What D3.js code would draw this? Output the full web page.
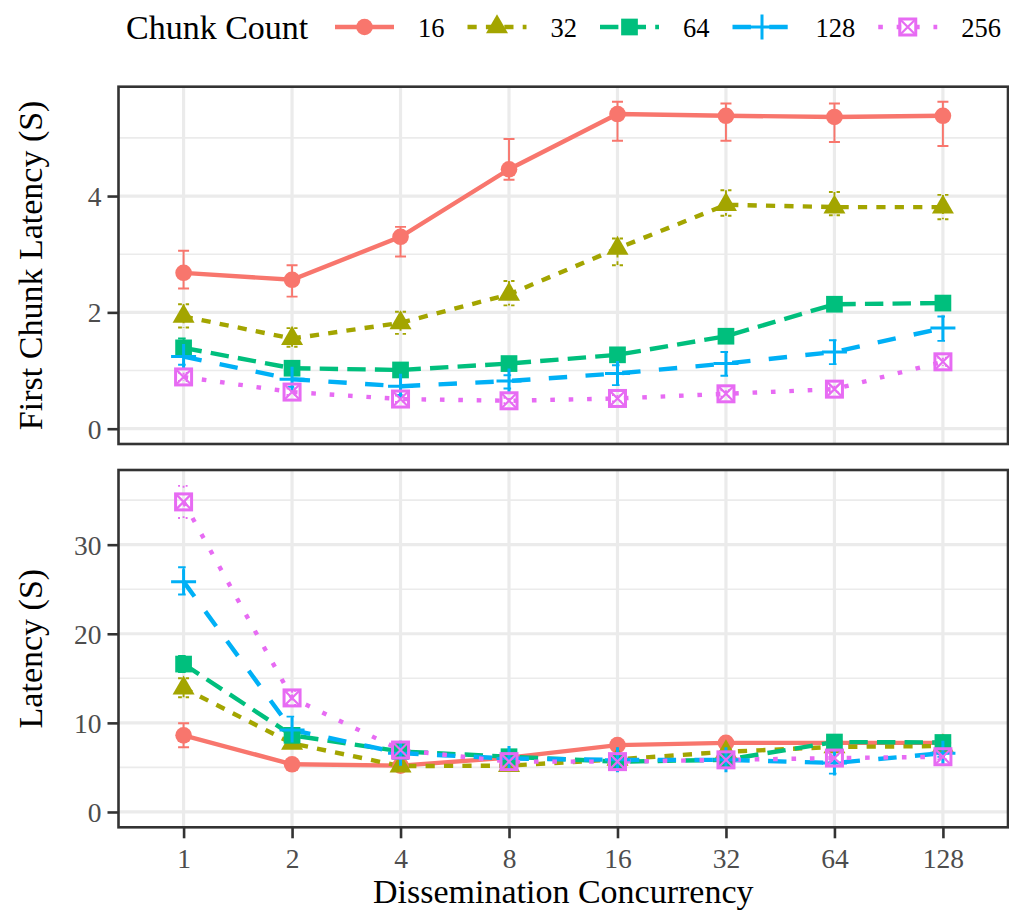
<!DOCTYPE html>
<html>
<head>
<meta charset="utf-8">
<script src="https://cdn.jsdelivr.net/npm/d3@7"></script>
<style>
  html, body { margin: 0; padding: 0; background: #fff; }
  svg { display: block; font-family: "Liberation Serif", "Times New Roman", serif; }
</style>
</head>
<body>
<svg id="chart" width="1009" height="916"></svg>
<script>
// ---------- data ----------
const concurrency = ["1", "2", "4", "8", "16", "32", "64", "128"];
const chunkCounts = ["16", "32", "64", "128", "256"];
const colors = ["#F8766D", "#A3A500", "#00BF7D", "#00B0F6", "#E76BF3"];

// First chunk latency (S): mean, lower, upper per chunk count
const first16 = [2.68, 2.56, 3.30, 4.46, 5.41, 5.38, 5.36, 5.38];
const first16Lo = [2.41, 2.27, 2.96, 4.28, 4.95, 4.95, 4.93, 4.86];
const first16Hi = [3.06, 2.81, 3.47, 4.98, 5.62, 5.59, 5.59, 5.62];
const first32 = [1.93, 1.55, 1.82, 2.31, 3.10, 3.85, 3.81, 3.81];
const first32Lo = [1.74, 1.41, 1.63, 2.12, 2.81, 3.66, 3.67, 3.60];
const first32Hi = [2.14, 1.73, 2.01, 2.54, 3.27, 4.10, 4.07, 4.02];
const first64 = [1.39, 1.04, 1.01, 1.12, 1.27, 1.59, 2.14, 2.16];
const first64Lo = [1.25, 0.98, 0.95, 1.06, 1.20, 1.52, 2.08, 2.10];
const first64Hi = [1.55, 1.10, 1.07, 1.18, 1.34, 1.66, 2.20, 2.22];
const first128 = [1.24, 0.85, 0.73, 0.82, 0.95, 1.12, 1.32, 1.73];
const first128Lo = [1.10, 0.72, 0.58, 0.69, 0.75, 0.91, 1.11, 1.51];
const first128Hi = [1.41, 0.98, 0.92, 0.92, 1.09, 1.32, 1.52, 1.93];
const first256 = [0.89, 0.63, 0.51, 0.48, 0.52, 0.60, 0.68, 1.15];
const first256Lo = [0.82, 0.58, 0.46, 0.44, 0.47, 0.55, 0.63, 1.08];
const first256Hi = [0.96, 0.69, 0.57, 0.53, 0.58, 0.66, 0.74, 1.22];

// Total latency (S)
const lat16 = [8.6, 5.35, 5.2, 6.1, 7.5, 7.75, 7.75, 7.75];
const lat16Lo = [7.26, 4.9, 4.8, 5.7, 7.1, 7.4, 7.4, 7.4];
const lat16Hi = [9.95, 5.9, 5.6, 6.5, 7.9, 8.1, 8.1, 8.1];
const lat32 = [13.9, 7.7, 5.15, 5.2, 5.9, 6.75, 7.3, 7.4];
const lat32Lo = [12.87, 7.2, 4.8, 4.9, 5.6, 6.4, 6.9, 7.0];
const lat32Hi = [15.0, 8.2, 5.5, 5.5, 6.2, 7.1, 7.7, 7.8];
const lat64 = [16.6, 8.6, 6.8, 6.2, 5.65, 5.85, 7.85, 7.8];
const lat64Lo = [15.7, 8.1, 6.4, 5.9, 5.3, 5.5, 7.45, 7.4];
const lat64Hi = [17.5, 9.1, 7.2, 6.5, 6.0, 6.2, 8.25, 8.2];
const lat128 = [25.85, 9.2, 6.6, 6.0, 5.85, 5.85, 5.5, 6.6];
const lat128Lo = [24.4, 7.7, 6.0, 5.6, 5.4, 5.4, 4.3, 6.2];
const lat128Hi = [27.46, 10.7, 7.2, 6.4, 6.3, 6.3, 6.7, 7.0];
const lat256 = [34.8, 12.8, 6.95, 5.65, 5.65, 5.85, 6.05, 6.2];
const lat256Lo = [33.0, 12.0, 6.5, 5.3, 5.3, 5.5, 5.7, 5.9];
const lat256Hi = [36.6, 13.6, 7.4, 6.0, 6.0, 6.2, 6.4, 6.5];

const yTicksTop = [0, 2, 4];
const yMinorTop = [1, 3, 5];
const yTicksBottom = [0, 10, 20, 30];
const yMinorBottom = [5, 15, 25, 35];

const legendTitle = "Chunk Count";
const xTitle = "Dissemination Concurrency";
const yTitleTop = "First Chunk Latency (S)";
const yTitleBottom = "Latency (S)";

// ---------- build ----------
const topSeries = [
  [first16, first16Lo, first16Hi], [first32, first32Lo, first32Hi], [first64, first64Lo, first64Hi],
  [first128, first128Lo, first128Hi], [first256, first256Lo, first256Hi]
];
const botSeries = [
  [lat16, lat16Lo, lat16Hi], [lat32, lat32Lo, lat32Hi], [lat64, lat64Lo, lat64Hi],
  [lat128, lat128Lo, lat128Hi], [lat256, lat256Lo, lat256Hi]
];

const svg = d3.select("#chart");
const L = 118.5, R = 1008;
const lwd = 4.4, unit = 4.6;
const dashes = [null, [2, 2], [4, 2], [4, 4], [1, 3]];
const dashFor = (i, u) => dashes[i] ? dashes[i].map(d => d * u).join(",") : null;
const shapes = ["circle", "triangle", "square", "plus", "squarex"];

const x = d3.scalePoint().domain(concurrency).range([L, R]).padding(0.6);

function marker(g, shape, color, cx, cy) {
  if (shape === "circle") {
    g.append("circle").attr("cx", cx).attr("cy", cy).attr("r", 8.3).attr("fill", color);
  } else if (shape === "triangle") {
    const r = 12.7, xc = 11, yc = 6.35;
    g.append("path").attr("d", `M${cx},${cy - r}L${cx + xc},${cy + yc}L${cx - xc},${cy + yc}Z`).attr("fill", color);
  } else if (shape === "square") {
    const s = 16.7;
    g.append("rect").attr("x", cx - s / 2).attr("y", cy - s / 2).attr("width", s).attr("height", s).attr("fill", color);
  } else if (shape === "plus") {
    const h = 12.5;
    g.append("path").attr("d", `M${cx - h},${cy}H${cx + h}M${cx},${cy - h}V${cy + h}`)
      .attr("stroke", color).attr("stroke-width", 3).attr("fill", "none");
  } else {
    const h = 8;
    g.append("rect").attr("x", cx - h).attr("y", cy - h).attr("width", 2 * h).attr("height", 2 * h)
      .attr("stroke", color).attr("stroke-width", 3).attr("fill", "none");
    g.append("path").attr("d", `M${cx - h},${cy - h}L${cx + h},${cy + h}M${cx + h},${cy - h}L${cx - h},${cy + h}`)
      .attr("stroke", color).attr("stroke-width", 2.2).attr("fill", "none");
  }
}

function panel(top, bottom, domain, ticks, minor, series, title, showX) {
  const y = d3.scaleLinear().domain(domain).range([bottom, top]);
  const g = svg.append("g");
  // grid
  g.selectAll(".minor").data(minor).join("line")
    .attr("x1", L).attr("x2", R).attr("y1", d => y(d)).attr("y2", d => y(d))
    .attr("stroke", "#EBEBEB").attr("stroke-width", 1.6);
  g.selectAll(".major").data(ticks).join("line")
    .attr("x1", L).attr("x2", R).attr("y1", d => y(d)).attr("y2", d => y(d))
    .attr("stroke", "#EBEBEB").attr("stroke-width", 3.2);
  g.selectAll(".vmajor").data(concurrency).join("line")
    .attr("x1", d => x(d)).attr("x2", d => x(d)).attr("y1", top).attr("y2", bottom)
    .attr("stroke", "#EBEBEB").attr("stroke-width", 3.2);

  const plot = g.append("g");
  // error bars
  series.forEach((s, i) => {
    const eb = plot.append("g").attr("stroke", colors[i]).attr("stroke-width", 1.9).attr("fill", "none")
      .attr("stroke-dasharray", dashFor(i, 1.9));
    concurrency.forEach((c, j) => {
      const cx = x(c), w = 5.5;
      eb.append("path").attr("d",
        `M${cx - w},${y(s[2][j])}H${cx + w}M${cx},${y(s[2][j])}V${y(s[1][j])}M${cx - w},${y(s[1][j])}H${cx + w}`);
    });
  });
  // lines
  const line = d3.line().x((d, j) => x(concurrency[j])).y(d => y(d));
  series.forEach((s, i) => {
    plot.append("path").attr("d", line(s[0])).attr("fill", "none")
      .attr("stroke", colors[i]).attr("stroke-width", lwd)
      .attr("stroke-dasharray", dashFor(i, unit));
  });
  // points
  series.forEach((s, i) => {
    const pg = plot.append("g");
    s[0].forEach((v, j) => marker(pg, shapes[i], colors[i], x(concurrency[j]), y(v)));
  });

  // border
  g.append("rect").attr("x", L).attr("y", top).attr("width", R - L).attr("height", bottom - top)
    .attr("fill", "none").attr("stroke", "#333333").attr("stroke-width", 2.6);

  // y axis ticks and labels
  const yAxis = d3.axisLeft(y).tickValues(ticks).tickSize(11).tickPadding(6).tickFormat(d3.format("d"));
  const ya = g.append("g").attr("transform", `translate(${L},0)`).call(yAxis);
  ya.select(".domain").remove();
  ya.selectAll(".tick line").attr("stroke", "#333333").attr("stroke-width", 2.6);
  ya.selectAll(".tick text").attr("fill", "#4D4D4D").attr("font-size", 27.5)
    .attr("font-family", "Liberation Serif, serif").attr("dy", "0.34em");

  if (showX) {
    const xAxis = d3.axisBottom(x).tickSize(11).tickPadding(10);
    const xa = g.append("g").attr("transform", `translate(0,${bottom})`).call(xAxis);
    xa.select(".domain").remove();
    xa.selectAll(".tick line").attr("stroke", "#333333").attr("stroke-width", 2.6);
    xa.selectAll(".tick text").attr("fill", "#4D4D4D").attr("font-size", 27.5)
      .attr("font-family", "Liberation Serif, serif").attr("dy", "0.71em");
  }

  // y title
  svg.append("text").attr("transform", `translate(42,${(top + bottom) / 2}) rotate(-90)`)
    .attr("text-anchor", "middle").attr("font-size", 34).attr("fill", "#000").text(title);
}

panel(86.7, 444, [-0.263, 5.88], yTicksTop, yMinorTop, topSeries, yTitleTop, false);
panel(470, 827.3, [-1.72, 38.38], yTicksBottom, yMinorBottom, botSeries, yTitleBottom, true);

// x title
svg.append("text").attr("x", (L + R) / 2).attr("y", 903).attr("text-anchor", "middle")
  .attr("font-size", 34).attr("fill", "#000").text(xTitle);

// legend
const leg = svg.append("g");
leg.append("text").attr("x", 126).attr("y", 39).attr("font-size", 34).attr("fill", "#000").text(legendTitle);
let lx = 335;
const ly = 27;
chunkCounts.forEach((c, i) => {
  leg.append("line").attr("x1", lx).attr("x2", lx + 59).attr("y1", ly).attr("y2", ly)
    .attr("stroke", colors[i]).attr("stroke-width", lwd).attr("stroke-dasharray", dashFor(i, unit));
  marker(leg, shapes[i], colors[i], lx + 29.5, ly);
  const t = leg.append("text").attr("x", lx + 59 + 24).attr("y", 37).attr("font-size", 26.5)
    .attr("fill", "#000").text(c);
  lx = lx + 59 + 24 + t.node().getComputedTextLength() + 23;
});
</script>
</body>
</html>
